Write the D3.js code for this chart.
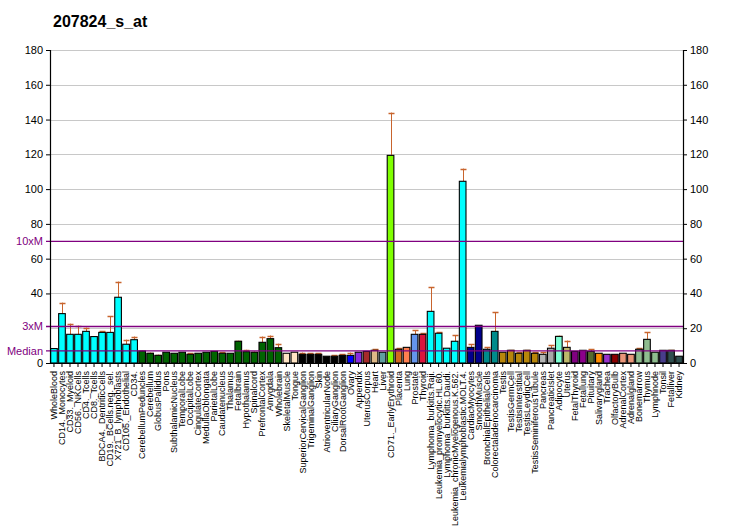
<!DOCTYPE html>
<html><head><meta charset="utf-8">
<script src="https://cdn.jsdelivr.net/npm/d3@7"></script>
<style>body{margin:0;background:#fff}svg{display:block}text{font-family:Arial,"Liberation Sans",sans-serif}</style>
</head><body>
<script>
const title = "207824_s_at";
const categories = ["WholeBlood","CD14._Monocytes","CD33._Myeloid","CD56._NKCells","CD4._Tcells","CD8._Tcells","BDCA4._DentriticCells","CD19._BCells.neg._sel.","X721_B_lymphoblasts","CD105._Endothelial","CD34.","CerebellumPeduncles","Cerebellum","GlobusPallidus","Pons","SubthalamicNucleus","TemporalLobe","OccipitalLobe","CingulateCortex","MedullaOblongata","ParietalLobe","Caudatenucleus","Thalamus","Fetalbrain","Hypothalamus","Spinalcord","PrefrontalCortex","Amygdala","Wholebrain","SkeletalMuscle","Tongue","SuperiorCervicalGanglion","TrigeminalGanglion","Skin","AtrioventricularNode","CiliaryGanglion","DorsalRootGanglion","Ovary","Appendix","UterusCorpus","Heart","Liver","CD71._EarlyErythroid","Placenta","Lung","Prostate","Thyroid","Lymphoma_burkitts.Raji.","Leukemia_promyelocytic.HL.60.","Lymphoma_burkitts.Daudi.","Leukemia_chronicMyelogenous.K.562.","Leukemialymphoblastic.MOLT.4.","CardiacMyocytes","SmoothMuscle","BronchialEpithelialCells","Colorectaladenocarcinoma","Testis","TestisGermCell","TestisInterstitial","TestisLeydigCell","TestisSeminiferousTubule","Pancreas","PancreaticIslet","Adipocyte","Uterus","FetalThyroid","Fetallung","Pituitary","Salivarygland","Trachea","OlfactoryBulb","AdrenalCortex","Adrenalgland","Bonemarrow","Thymus","Lymphnode","Tonsil","Fetalliver","Kidney"];
const values = [8.3,28.4,16.5,16.5,18.2,15.2,17.6,17.6,37.8,10.8,13.4,6.9,5.6,4.4,6.2,5.6,6.2,5.0,5.6,6.2,6.7,5.6,5.6,12.5,6.5,6.2,11.9,14.0,8.8,5.6,6.2,5.0,5.0,5.0,3.9,3.9,4.4,4.4,6.2,6.7,7.3,6.2,119.4,7.9,9.0,16.5,16.5,29.7,17.1,8.5,12.5,104.5,9.0,21.7,7.9,18.2,6.2,7.3,5.6,7.3,5.6,5.0,8.5,15.3,9.0,6.7,7.3,6.7,5.6,5.0,5.0,5.6,5.0,7.9,13.6,6.2,7.3,7.3,3.9];
const errTops = [null,34.7,22.6,21.5,20.3,null,18.2,26.9,46.8,13.4,15.2,7.1,6.0,4.8,null,null,null,5.6,null,null,null,6.2,null,12.8,7.6,6.6,15.2,15.8,11.1,null,null,6.0,5.6,5.6,null,4.4,5.0,6.0,null,null,7.9,null,144.0,8.5,null,18.8,17.1,43.5,17.6,null,15.9,111.8,10.8,null,9.0,29.2,null,7.4,6.2,7.4,6.2,6.2,10.2,15.7,12.9,null,null,7.9,null,null,null,null,null,8.5,17.6,null,null,7.4,null];
const colors = ["#00FFFF","#00FFFF","#00FFFF","#00FFFF","#00FFFF","#00FFFF","#00FFFF","#00FFFF","#00FFFF","#00FFFF","#00FFFF",
 "#006400","#006400","#006400","#006400","#006400","#006400","#006400","#006400","#006400","#006400","#006400","#006400","#006400","#006400","#006400","#006400","#006400","#006400",
 "#FFE4C4","#FFE4C4","#000000","#000000","#000000","#000000","#000000","#000000","#0000FF","#8A2BE2","#A52A2A","#DEB887","#5F9EA0","#7FFF00","#D2691E","#FF7F50","#6495ED","#DC143C",
 "#00FFFF","#00FFFF","#00FFFF","#00FFFF","#00FFFF","#00008B","#00008B","#008B8B","#008B8B",
 "#B8860B","#B8860B","#B8860B","#B8860B","#B8860B","#B4B4B4","#A9A9A9","#7FFFD4","#BDB76B","#800080","#8B008B","#556B2F","#FF8C00","#9932CC","#8B0000","#E9967A","#E9967A","#8FBC8F","#8FBC8F","#8FBC8F","#483D8B","#2F4F4F","#2F4F4F"];
const yTicks = [0,20,40,60,80,100,120,140,160,180];
const median = 7;
const refLines = [{label:"Median", v:median},{label:"3xM", v:median*3},{label:"10xM", v:median*10}];

const W = 732, H = 530;
const svg = d3.select("body").append("svg").attr("width", W).attr("height", H);
const x = d3.scaleBand().domain(categories).range([50, 683]).paddingInner(0.17).paddingOuter(0.08);
const y = d3.scaleLinear().domain([0, 180]).range([363, 50]);

svg.append("text").attr("x", 53).attr("y", 27).attr("font-size", 16).attr("font-weight", "bold").text(title);

// gridlines
svg.append("g").selectAll("line").data(yTicks.filter(d => d > 0)).join("line")
  .attr("x1", 50).attr("x2", 683).attr("y1", d => Math.round(y(d)) + 0.5).attr("y2", d => Math.round(y(d)) + 0.5)
  .attr("stroke", "#c8c8c8").attr("stroke-width", 1);

const data = categories.map((c, i) => ({c, v: values[i], e: errTops[i], col: colors[i]}));

// error bars
const eg = svg.append("g");
data.filter(d => d.e != null).forEach(d => {
  const cx = Math.round(x(d.c) + x.bandwidth() / 2) + 0.5;
  eg.append("line").attr("x1", cx).attr("x2", cx).attr("y1", y(d.v)).attr("y2", y(d.e)).attr("stroke", "#C8642D").attr("stroke-width", 1);
  eg.append("line").attr("x1", cx - 3).attr("x2", cx + 3).attr("y1", Math.round(y(d.e)) + 0.5).attr("y2", Math.round(y(d.e)) + 0.5).attr("stroke", "#C8642D").attr("stroke-width", 1.5);
});

// bars
svg.append("g").selectAll("rect").data(data).join("rect")
  .attr("x", d => x(d.c)).attr("width", x.bandwidth())
  .attr("y", d => y(d.v)).attr("height", d => y(0) - y(d.v))
  .attr("fill", d => d.col).attr("stroke", "#000").attr("stroke-width", 1.1);

// reference lines
svg.append("g").selectAll("line").data(refLines).join("line")
  .attr("x1", 46).attr("x2", 683).attr("y1", d => y(d.v)).attr("y2", d => y(d.v))
  .attr("stroke", "#800080").attr("stroke-width", 1.3);

// left axis
const la = svg.append("g").attr("transform", "translate(50,0)")
  .call(d3.axisLeft(y).tickValues(yTicks.filter(d => d !== 20)).tickSize(4).tickPadding(3));
la.selectAll("text").attr("font-size", 11).attr("fill", "#000");
la.select(".domain").attr("stroke", "#000").attr("stroke-width", 1.2);
svg.append("g").selectAll("text").data(refLines).join("text")
  .attr("x", 43).attr("y", d => y(d.v)).attr("dy", "0.35em").attr("text-anchor", "end")
  .attr("font-size", 11).attr("fill", "#800080").text(d => d.label);

// right axis
const ra = svg.append("g").attr("transform", "translate(683,0)")
  .call(d3.axisRight(y).tickValues(yTicks).tickSize(4).tickPadding(3));
ra.selectAll("text").attr("font-size", 11).attr("fill", "#000");
ra.select(".domain").attr("stroke", "#000").attr("stroke-width", 1.2);

// bottom axis
const ba = svg.append("g").attr("transform", "translate(0,363)")
  .call(d3.axisBottom(x).tickSize(4).tickSizeOuter(0).tickPadding(2));
ba.select(".domain").attr("stroke", "#000").attr("stroke-width", 1.2);
ba.selectAll("text").attr("font-size", 9).attr("fill", "#000")
  .attr("text-anchor", "end").attr("transform", "rotate(-90)")
  .attr("x", -8).attr("y", 0).attr("dy", "0.35em");
</script>
</body></html>
